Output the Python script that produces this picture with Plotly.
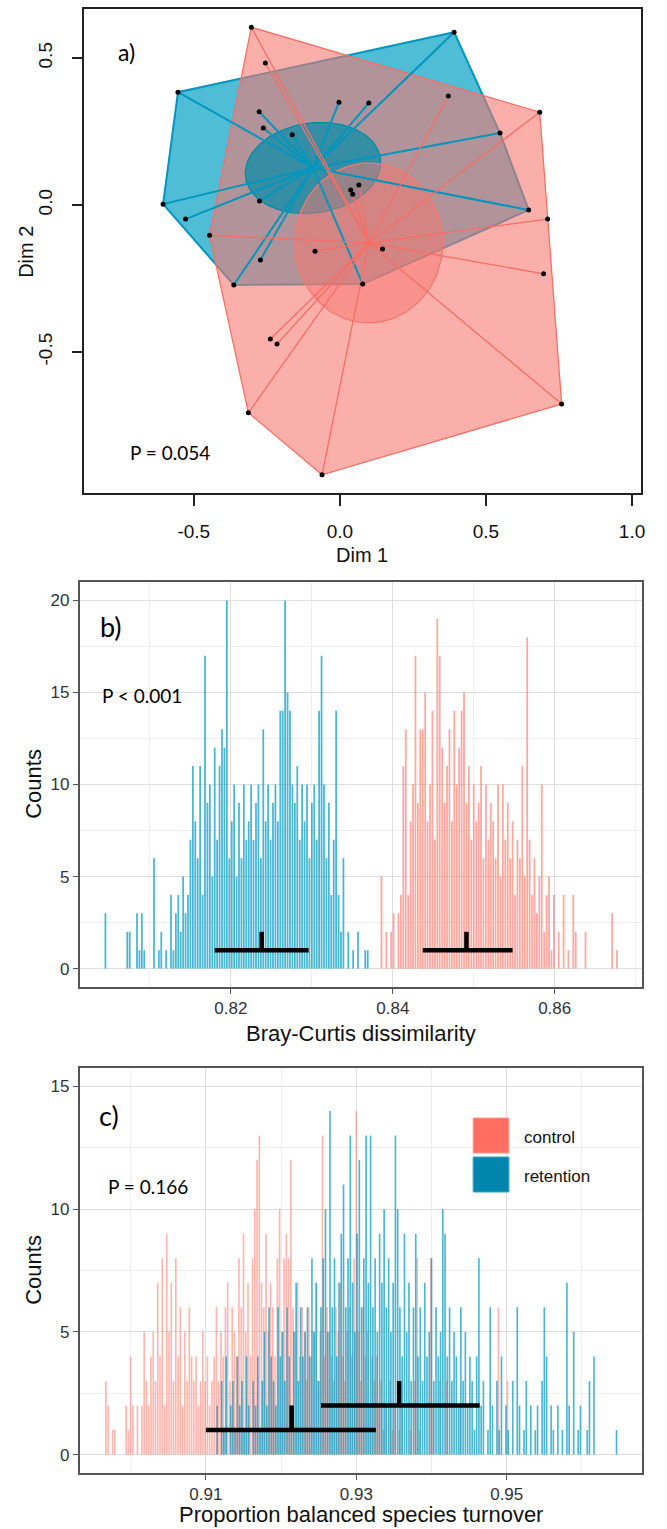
import numpy as np
import plotly.graph_objects as go

# ---------------- Panel a: ordination (Dim 1 / Dim 2) ----------------
ret_x = [-0.554, -0.276, -0.262, -0.163, -0.605, -0.528, -0.275, -0.272, -0.363,
         0.391, -0.003, 0.099, 0.548, 0.646, 0.078]
ret_y = [0.384, 0.317, 0.262, 0.239, 0.003, -0.048, 0.014, -0.187, -0.272,
         0.588, 0.350, 0.347, 0.245, -0.017, -0.269]
ctl_x = [-0.303, -0.255, 0.371, 0.684, 0.711, 0.697, 0.146, -0.085, -0.446,
         -0.238, -0.215, -0.313, -0.061, 0.759, 0.065, 0.037, 0.044]
ctl_y = [0.605, 0.483, 0.371, 0.316, -0.048, -0.234, -0.150, -0.157, -0.103,
         -0.456, -0.473, -0.707, -0.918, -0.677, 0.068, 0.051, 0.037]
ret_centroid = [-0.092, 0.126]
ctl_centroid = [0.099, -0.129]
ret_ellipse = [0.233, 0.153, 8.0]    # semi-axis 1, semi-axis 2, rotation (deg)
ctl_ellipse = [0.253, 0.272, 0.0]
a_xticks = [-0.5, 0.0, 0.5, 1.0]
a_xlabels = ["-0.5", "0.0", "0.5", "1.0"]
a_yticks = [-0.5, 0.0, 0.5]
a_ylabels = ["-0.5", "0.0", "0.5"]

# ---------------- Panel b: Bray-Curtis dissimilarity ----------------
bin_step = 0.0003
b_ret_start = 0.8045
b_ret_counts = [3, 0, 0, 0, 0, 0, 0, 0, 0, 2,
                2, 0, 0, 3, 1, 3, 1, 0, 0, 0,
                6, 0, 1, 2, 0, 1, 0, 4, 1, 3,
                4, 2, 5, 3, 4, 7, 11, 8, 6, 11,
                4, 17, 9, 10, 5, 12, 7, 11, 13, 12,
                20, 6, 8, 10, 5, 9, 6, 10, 7, 8,
                10, 7, 9, 10, 6, 13, 8, 10, 7, 9,
                10, 8, 14, 14, 20, 15, 14, 10, 9, 11,
                7, 10, 8, 10, 6, 9, 10, 7, 14, 17,
                10, 6, 9, 4, 7, 14, 4, 2, 6, 0,
                2, 0, 1, 0, 2, 0, 0, 1, 1, 0, 0]
b_ctl_start = 0.8383
b_ctl_counts = [0, 5, 0, 2, 0, 2, 3, 0, 3, 4,
                11, 13, 4, 8, 10, 17, 9, 13, 13, 15,
                8, 10, 14, 7, 19, 17, 12, 9, 11, 13,
                8, 14, 10, 12, 14, 15, 9, 11, 7, 10,
                8, 9, 11, 6, 10, 7, 9, 8, 6, 10,
                5, 10, 7, 9, 6, 8, 4, 7, 6, 11,
                5, 18, 7, 4, 6, 3, 5, 10, 2, 4,
                5, 1, 4, 0, 2, 0, 4, 0, 1, 0,
                4, 2, 0, 0, 0, 2, 0, 0, 0, 0,
                0, 0, 0, 0, 0, 0, 3, 0, 1]
b_ret_summary = [0.8238, 0.8180, 0.8296, 1]   # mean, low, high, level
b_ctl_summary = [0.8491, 0.8437, 0.8548, 1]
b_xticks = [0.82, 0.84, 0.86]
b_xlabels = ["0.82", "0.84", "0.86"]
b_yticks = [0, 5, 10, 15, 20]
b_ylabels = ["0", "5", "10", "15", "20"]

# ---------------- Panel c: proportion balanced species turnover ----------------
c_ctl_start = 0.8967
c_ctl_counts = [3, 2, 0, 1, 1, 0, 0, 0, 0, 2,
                1, 4, 2, 0, 2, 0, 2, 5, 3, 2,
                4, 5, 3, 7, 4, 8, 2, 9, 5, 7,
                3, 8, 4, 6, 2, 5, 3, 6, 4, 3,
                4, 2, 3, 5, 3, 4, 2, 3, 4, 6,
                3, 5, 4, 6, 7, 3, 6, 5, 4, 8,
                6, 9, 5, 7, 4, 8, 10, 12, 13, 7,
                6, 9, 5, 7, 6, 4, 8, 10, 5, 8,
                9, 8, 12, 6, 5, 7, 4, 6, 5, 3,
                6, 4, 5, 7, 3, 5, 13, 4, 6, 5,
                4, 3, 6, 5, 7, 4, 3, 5, 6, 4,
                8, 14, 5, 3, 6, 4, 5, 2, 4, 3,
                4, 2, 3, 1, 2, 0, 3, 1, 2, 0,
                1, 2, 0, 0, 0, 1, 0, 3, 8, 1,
                0, 0, 0, 0, 8, 2, 0, 0, 3, 0,
                0, 3, 0, 0, 0, 0, 0, 2, 0, 0,
                0, 0, 0, 0, 0, 0, 0, 0, 0, 0,
                0, 0, 0, 0, 6, 0, 0, 0, 3, 0]
c_ret_start = 0.9115
c_ret_counts = [2, 0, 3, 1, 4, 0, 2, 3, 1, 4,
                2, 3, 1, 4, 2, 0, 3, 2, 4, 1,
                3, 5, 2, 6, 4, 3, 2, 6, 4, 5,
                3, 6, 4, 2, 5, 7, 3, 6, 4, 5,
                6, 4, 8, 5, 7, 3, 6, 8, 10, 5,
                14, 6, 8, 4, 7, 9, 11, 6, 8, 13,
                7, 5, 9, 12, 6, 8, 13, 7, 13, 6,
                8, 5, 9, 7, 10, 6, 8, 5, 7, 13,
                10, 6, 4, 9, 5, 7, 3, 6, 9, 4,
                6, 3, 7, 4, 5, 8, 3, 6, 4, 5,
                10, 9, 4, 6, 3, 5, 4, 2, 6, 3,
                5, 2, 4, 3, 1, 4, 8, 2, 3, 0,
                1, 6, 2, 0, 3, 1, 4, 0, 2, 1,
                0, 3, 0, 6, 2, 0, 1, 3, 0, 2,
                0, 1, 2, 0, 3, 6, 4, 0, 2, 1,
                0, 2, 0, 1, 0, 7, 2, 0, 5, 0,
                1, 2, 0, 0, 1, 3, 0, 4, 0, 0,
                0, 0, 0, 0, 0, 0, 0, 1]
c_ctl_summary = [0.9214, 0.9100, 0.9326, 1]
c_ret_summary = [0.9357, 0.9253, 0.9464, 2]
c_xticks = [0.91, 0.93, 0.95]
c_xlabels = ["0.91", "0.93", "0.95"]
c_yticks = [0, 5, 10, 15]
c_ylabels = ["0", "5", "10", "15"]

legend_labels = ["control", "retention"]

# ---------------- helpers ----------------
W, H = 667, 1529


def xd(p):
    return p / W


def yd(p):
    return 1 - p / H


def convex_hull(xs, ys):
    pts = sorted(set(zip(xs, ys)))

    def cross(o, a, b):
        return (a[0] - o[0]) * (b[1] - o[1]) - (a[1] - o[1]) * (b[0] - o[0])
    lower, upper = [], []
    for p in pts:
        while len(lower) >= 2 and cross(lower[-2], lower[-1], p) <= 0:
            lower.pop()
        lower.append(p)
    for p in reversed(pts):
        while len(upper) >= 2 and cross(upper[-2], upper[-1], p) <= 0:
            upper.pop()
        upper.append(p)
    hull = lower[:-1] + upper[:-1]
    hull.append(hull[0])
    return [p[0] for p in hull], [p[1] for p in hull]


def ellipse(center, params, n=120):
    a, b, ang = params
    th = np.deg2rad(ang)
    t = np.linspace(0, 2 * np.pi, n)
    ex = center[0] + a * np.cos(t) * np.cos(th) - b * np.sin(t) * np.sin(th)
    ey = center[1] + a * np.cos(t) * np.sin(th) + b * np.sin(t) * np.cos(th)
    return ex, ey


def spider(center, xs, ys):
    sx, sy = [], []
    for x, y in zip(xs, ys):
        sx += [center[0], x, None]
        sy += [center[1], y, None]
    return sx, sy


def bins(start, counts):
    return [round(start + i * bin_step, 5) for i in range(len(counts))]


BLUE_FILL = "rgba(0,160,196,0.69)"
BLUE_LINE = "rgb(0,150,190)"
RED_FILL = "rgba(248,118,109,0.58)"
RED_LINE = "rgb(248,110,100)"

fig = go.Figure()

# ---- panel a ----
hx, hy = convex_hull(ret_x, ret_y)
fig.add_trace(go.Scatter(x=hx, y=hy, fill="toself", fillcolor=BLUE_FILL, mode="lines",
                         line=dict(color=BLUE_LINE, width=2), xaxis="x", yaxis="y", hoverinfo="skip"))
hx, hy = convex_hull(ctl_x, ctl_y)
fig.add_trace(go.Scatter(x=hx, y=hy, fill="toself", fillcolor=RED_FILL, mode="lines",
                         line=dict(color=RED_LINE, width=1.3), xaxis="x", yaxis="y", hoverinfo="skip"))
ex, ey = ellipse(ret_centroid, ret_ellipse)
fig.add_trace(go.Scatter(x=ex, y=ey, fill="toself", fillcolor="rgba(0,140,168,0.7)", mode="lines",
                         line=dict(color="rgb(0,140,170)", width=1.3), xaxis="x", yaxis="y", hoverinfo="skip"))
ex, ey = ellipse(ctl_centroid, ctl_ellipse)
fig.add_trace(go.Scatter(x=ex, y=ey, fill="toself", fillcolor="rgba(248,118,109,0.5)", mode="lines",
                         line=dict(color="rgb(248,118,109)", width=1.3), xaxis="x", yaxis="y", hoverinfo="skip"))
sx, sy = spider(ret_centroid, ret_x, ret_y)
fig.add_trace(go.Scatter(x=sx, y=sy, mode="lines", line=dict(color=BLUE_LINE, width=2),
                         xaxis="x", yaxis="y", hoverinfo="skip"))
sx, sy = spider(ctl_centroid, ctl_x, ctl_y)
fig.add_trace(go.Scatter(x=sx, y=sy, mode="lines", line=dict(color=RED_LINE, width=1.3),
                         xaxis="x", yaxis="y", hoverinfo="skip"))
fig.add_trace(go.Scatter(x=ret_x + ctl_x, y=ret_y + ctl_y, mode="markers",
                         marker=dict(color="black", size=5), xaxis="x", yaxis="y"))

# ---- panel b ----
BAR_BLUE = "rgba(0,155,195,0.72)"
BAR_RED = "rgba(255,110,95,0.6)"
BAR_RED_C = "rgba(255,110,95,0.5)"
fig.add_trace(go.Bar(x=bins(b_ret_start, b_ret_counts), y=b_ret_counts, width=0.00022,
                     marker=dict(color=BAR_BLUE, line=dict(width=0)), xaxis="x2", yaxis="y2"))
fig.add_trace(go.Bar(x=bins(b_ctl_start, b_ctl_counts), y=b_ctl_counts, width=0.00022,
                     marker=dict(color=BAR_RED, line=dict(width=0)), xaxis="x2", yaxis="y2"))

# ---- panel c ----
fig.add_trace(go.Bar(x=bins(c_ctl_start, c_ctl_counts), y=c_ctl_counts, width=0.00022,
                     marker=dict(color=BAR_RED_C, line=dict(width=0)), xaxis="x3", yaxis="y3"))
fig.add_trace(go.Bar(x=bins(c_ret_start, c_ret_counts), y=c_ret_counts, width=0.00022,
                     marker=dict(color=BAR_BLUE, line=dict(width=0)), xaxis="x3", yaxis="y3"))


def summary_bar(s, xa, ya):
    mean, lo, hi, lev = s
    fig.add_trace(go.Scatter(x=[lo, hi, None, mean, mean], y=[lev, lev, None, lev, lev + 1],
                             mode="lines", line=dict(color="black", width=4.5),
                             xaxis=xa, yaxis=ya, hoverinfo="skip"))


summary_bar(b_ret_summary, "x2", "y2")
summary_bar(b_ctl_summary, "x2", "y2")
summary_bar(c_ctl_summary, "x3", "y3")
summary_bar(c_ret_summary, "x3", "y3")

# ---------------- layout ----------------
FONT = "Liberation Sans, Arial, sans-serif"
LABEL_FONT = "Lato, Open Sans, sans-serif"

base_a = dict(showline=True, mirror=True, linecolor="#222", linewidth=1.6, ticks="outside",
              ticklen=11, tickwidth=1.6, tickcolor="#222", showgrid=False, zeroline=False,
              tickfont=dict(family=FONT, size=19, color="#111"), tickmode="array")
gg = dict(showline=True, mirror=True, linecolor="#555", linewidth=1.5, ticks="outside",
          ticklen=5, tickwidth=1.2, tickcolor="#555", showgrid=True, gridcolor="#DEDEDE",
          gridwidth=1.1, zeroline=False, tickfont=dict(family=FONT, size=17, color="#333"),
          tickmode="array")

fig.update_layout(
    width=W, height=H, margin=dict(l=0, r=0, t=0, b=0),
    paper_bgcolor="white", plot_bgcolor="white", showlegend=False,
    barmode="overlay",
    xaxis=dict(base_a, domain=[xd(85), xd(645)], range=[-0.874, 1.031], anchor="y",
               tickvals=a_xticks, ticktext=a_xlabels, ticklabelstandoff=9),
    yaxis=dict(base_a, domain=[yd(493), yd(9)], range=[-0.98, 0.667], anchor="x",
               tickvals=a_yticks, ticktext=a_ylabels, tickangle=-90, ticklabelstandoff=12),
    xaxis2=dict(gg, domain=[xd(80), xd(646)], range=[0.8013, 0.8708], anchor="y2",
                tickvals=b_xticks, ticktext=b_xlabels,
                minor=dict(tickvals=[0.81, 0.83, 0.85, 0.87], showgrid=True, gridcolor="#EFEFEF", gridwidth=1)),
    yaxis2=dict(gg, domain=[yd(987), yd(582)], range=[-1, 21], anchor="x2",
                tickvals=b_yticks, ticktext=b_ylabels,
                minor=dict(tickvals=[2.5, 7.5, 12.5, 17.5], showgrid=True, gridcolor="#EFEFEF", gridwidth=1)),
    xaxis3=dict(gg, domain=[xd(80), xd(646)], range=[0.8932, 0.968], anchor="y3",
                tickvals=c_xticks, ticktext=c_xlabels,
                minor=dict(tickvals=[0.90, 0.92, 0.94, 0.96], showgrid=True, gridcolor="#EFEFEF", gridwidth=1)),
    yaxis3=dict(gg, domain=[yd(1473), yd(1068)], range=[-0.75, 15.75], anchor="x3",
                tickvals=c_yticks, ticktext=c_ylabels,
                minor=dict(tickvals=[2.5, 7.5, 12.5], showgrid=True, gridcolor="#EFEFEF", gridwidth=1)),
)

ann = []


def text(s, px, py, size, family=FONT, angle=0, color="#111"):
    ann.append(dict(text=s, x=xd(px), y=yd(py), xref="paper", yref="paper", showarrow=False,
                    xanchor="center", yanchor="middle", textangle=angle,
                    font=dict(family=family, size=size, color=color)))


# axis titles
text("Dim 1", 364, 555, 20)
text("Dim 2", 26, 252, 20, angle=-90)
text("Counts", 33, 784, 22, angle=-90)
text("Bray-Curtis dissimilarity", 363, 1033, 22)
text("Counts", 33, 1270, 22, angle=-90)
text("Proportion balanced species turnover", 363, 1514, 22)
# panel labels & p-values
text("a)", 127, 52, 23, family=LABEL_FONT, color="#000")
text("b)", 112, 626, 27, family=LABEL_FONT, color="#000")
text("c)", 110, 1115, 27, family=LABEL_FONT, color="#000")
text("P = 0.054", 171, 452, 19, family=LABEL_FONT, color="#000")
text("P < 0.001", 143, 695, 19, family=LABEL_FONT, color="#000")
text("P = 0.166", 149, 1186, 19, family=LABEL_FONT, color="#000")

# legend (panel c)
shapes = [
    dict(type="rect", xref="paper", yref="paper", x0=xd(462), x1=xd(603), y0=yd(1205), y1=yd(1092),
         fillcolor="white", line=dict(width=0), layer="between"),
    dict(type="rect", xref="paper", yref="paper", x0=xd(476), x1=xd(512), y0=yd(1153), y1=yd(1118),
         fillcolor="#FF6E60", line=dict(color="#FF9C90", width=1)),
    dict(type="rect", xref="paper", yref="paper", x0=xd(476), x1=xd(512), y0=yd(1192), y1=yd(1157),
         fillcolor="#0086AD", line=dict(color="#30A8C8", width=1)),
]
ann.append(dict(text=legend_labels[0], x=xd(525), y=yd(1137), xref="paper", yref="paper",
                showarrow=False, xanchor="left", yanchor="middle",
                font=dict(family=FONT, size=17, color="#111")))
ann.append(dict(text=legend_labels[1], x=xd(525), y=yd(1176), xref="paper", yref="paper",
                showarrow=False, xanchor="left", yanchor="middle",
                font=dict(family=FONT, size=17, color="#111")))

fig.update_layout(annotations=ann, shapes=shapes)
# remove the default 8px page margin so the figure fills the window exactly
fig.write_html("out.html", config={"displayModeBar": False},
               post_script="document.body.style.margin='0';document.body.style.overflow='hidden';")
